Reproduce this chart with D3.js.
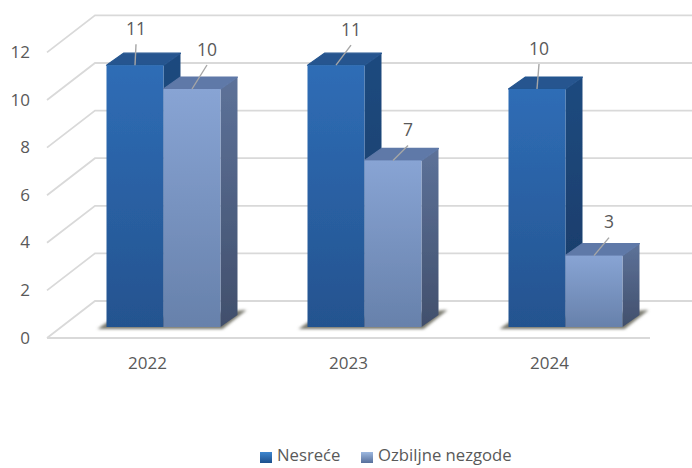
<!DOCTYPE html>
<html>
<head>
<meta charset="utf-8">
<script src="https://cdn.jsdelivr.net/npm/d3@7/dist/d3.min.js"></script>
<style>
  html, body { margin: 0; padding: 0; background: #fff; }
  svg { display: block; }
  text { font-family: "Open Sans", sans-serif; fill: #595959; }
</style>
</head>
<body>
<svg id="chart" width="692" height="468"></svg>
<script>
// Chart data
const years = ["2022", "2023", "2024"];
const seriesNames = ["Nesreće", "Ozbiljne nezgode"];
const accidents = [11, 11, 10];
const seriousIncidents = [10, 7, 3];
const yTicks = [0, 2, 4, 6, 8, 10, 12];

// Label placement relative to the centre of each bar's top edge: [dx, dy]
const accidentLabelShift = [[1, -35], [15, -34], [2, -39]];
const seriousLabelShift = [[15, -38], [15, -29], [15, -32]];

const svg = d3.select("#chart");
const defs = svg.append("defs");

// Front plane of the chart box and the oblique depth offsets
const plane = { left: 47, right: 650, floor: 338 };
const barDepth = { front: [16, -11], back: [33, -23] };
const wallDepth = [48, -37];

const x = d3.scaleBand().domain(years).range([plane.left, plane.right]);
const y = d3.scaleLinear().domain([0, 12]).range([plane.floor, plane.floor - 285.6]);
const group = d3.scaleBand().domain([0, 1]).range([-57, 57]);

function gradient(id, stops, horizontal) {
  const g = defs.append("linearGradient").attr("id", id)
    .attr("x1", 0).attr("y1", 0)
    .attr("x2", horizontal ? 1 : 0).attr("y2", horizontal ? 0 : 1);
  stops.forEach(([o, c]) => g.append("stop").attr("offset", o).attr("stop-color", c));
}

// Face colours for each series: front, top, side
gradient("front0", [[0, "#2f6db6"], [1, "#24538f"]]);
gradient("side0", [[0, "#1f4a7f"], [1, "#173a66"]]);
gradient("front1", [[0, "#88a4d4"], [1, "#6781ab"]]);
gradient("side1", [[0, "#5d7299"], [1, "#414f6c"]]);
const topFill = ["#25558f", "#5f79a8"];

gradient("key0", [[0, "#3d86cf"], [1, "#1d4f8c"]]);
gradient("key1", [[0, "#9db8e0"], [1, "#566f9b"]]);

defs.append("filter").attr("id", "soft")
  .attr("x", "-20%").attr("y", "-100%").attr("width", "140%").attr("height", "300%")
  .append("feGaussianBlur").attr("stdDeviation", 1.4);
defs.append("filter").attr("id", "edge")
  .append("feGaussianBlur").attr("stdDeviation", 0.45);

// Wall and floor grid lines
const grid = svg.append("g").attr("fill", "none").attr("stroke", "#d9d9d9").attr("stroke-width", 1.8);
grid.selectAll(".wall").data(yTicks).join("path")
  .attr("class", "wall")
  .attr("d", v => d3.line()([
    [plane.left, y(v)],
    [plane.left + wallDepth[0], y(v) + wallDepth[1]],
    [plane.right + wallDepth[0], y(v) + wallDepth[1]]
  ]));
grid.append("path").attr("d", d3.line()([
  [plane.left, y(0)],
  [plane.right, y(0)],
]));

// Tick labels on the value axis
svg.append("g").selectAll("text").data(yTicks).join("text")
  .attr("x", 30).attr("y", v => y(v) + 1)
  .attr("text-anchor", "end").attr("dominant-baseline", "middle")
  .attr("font-size", 17)
  .text(d => d);

// Category labels
svg.append("g").selectAll("text").data(years).join("text")
  .attr("x", d => x(d) + x.bandwidth() / 2)
  .attr("y", 364).attr("text-anchor", "middle").attr("dominant-baseline", "middle")
  .attr("font-size", 17)
  .text(d => d);

// Bars, drawn as three faces of a box
const series = [
  { values: accidents, shifts: accidentLabelShift },
  { values: seriousIncidents, shifts: seriousLabelShift }
];

const barLayer = svg.append("g");

// Ground shadow below each pair of bars
years.forEach(year => {
  const cx = x(year) + x.bandwidth() / 2 + barDepth.front[0];
  const base = y(0) + barDepth.front[1];
  barLayer.append("path")
    .attr("d", d3.line()([
      [cx - 66, base + 2],
      [cx - 56, base - 5],
      [cx + 70, base - 16],
      [cx + 83, base - 17],
      [cx + 59, base + 2]
    ]))
    .attr("fill", "#77776c").attr("filter", "url(#soft)");
});

series.forEach((s, si) => {
  years.forEach((year, yi) => {
    const v = s.values[yi];
    const cx = x(year) + x.bandwidth() / 2 + barDepth.front[0];
    const x0 = cx + group(si);
    const x1 = x0 + group.bandwidth();
    const top = y(v) + barDepth.front[1];
    const base = y(0) + barDepth.front[1];
    const dx = barDepth.back[0] - barDepth.front[0];
    const dy = barDepth.back[1] - barDepth.front[1];
    const g = barLayer.append("g").attr("filter", "url(#edge)")
      .attr("stroke-linejoin", "round");

    g.append("path")
      .attr("d", d3.line()([[x1, top], [x1 + dx, top + dy], [x1 + dx, base + dy], [x1, base]]) + "Z")
      .attr("fill", `url(#side${si})`);
    g.append("path")
      .attr("d", d3.line()([[x0, top], [x0 + dx, top + dy], [x1 + dx, top + dy], [x1, top]]) + "Z")
      .attr("fill", topFill[si]).attr("stroke", topFill[si]).attr("stroke-width", 1.2);
    g.append("rect")
      .attr("x", x0).attr("y", top)
      .attr("width", group.bandwidth()).attr("height", base - top)
      .attr("fill", `url(#front${si})`);
  });
});

// Value labels with leader lines
series.forEach((s, si) => {
  years.forEach((year, yi) => {
    const v = s.values[yi];
    const cx = x(year) + x.bandwidth() / 2 + barDepth.front[0] + group(si) + group.bandwidth() / 2;
    const top = y(v) + barDepth.front[1];
    const [sx, sy] = s.shifts[yi];
    svg.append("line")
      .attr("x1", cx).attr("y1", top)
      .attr("x2", cx + sx).attr("y2", top + sy + 14)
      .attr("stroke", "#a6a6a6").attr("stroke-width", 1.4);
    svg.append("text")
      .attr("x", cx + sx).attr("y", top + sy)
      .attr("text-anchor", "middle").attr("dominant-baseline", "middle")
      .attr("font-size", 17.5)
      .text(v);
  });
});

// Legend
const legendX = [260, 361];
const legend = svg.append("g");
seriesNames.forEach((name, i) => {
  legend.append("rect")
    .attr("x", legendX[i]).attr("y", 452)
    .attr("width", 12).attr("height", 11)
    .attr("fill", `url(#key${i})`);
  legend.append("text")
    .attr("x", legendX[i] + 17).attr("y", 457)
    .attr("dominant-baseline", "middle")
    .attr("font-size", 16.7)
    .text(name);
});
</script>
</body>
</html>
